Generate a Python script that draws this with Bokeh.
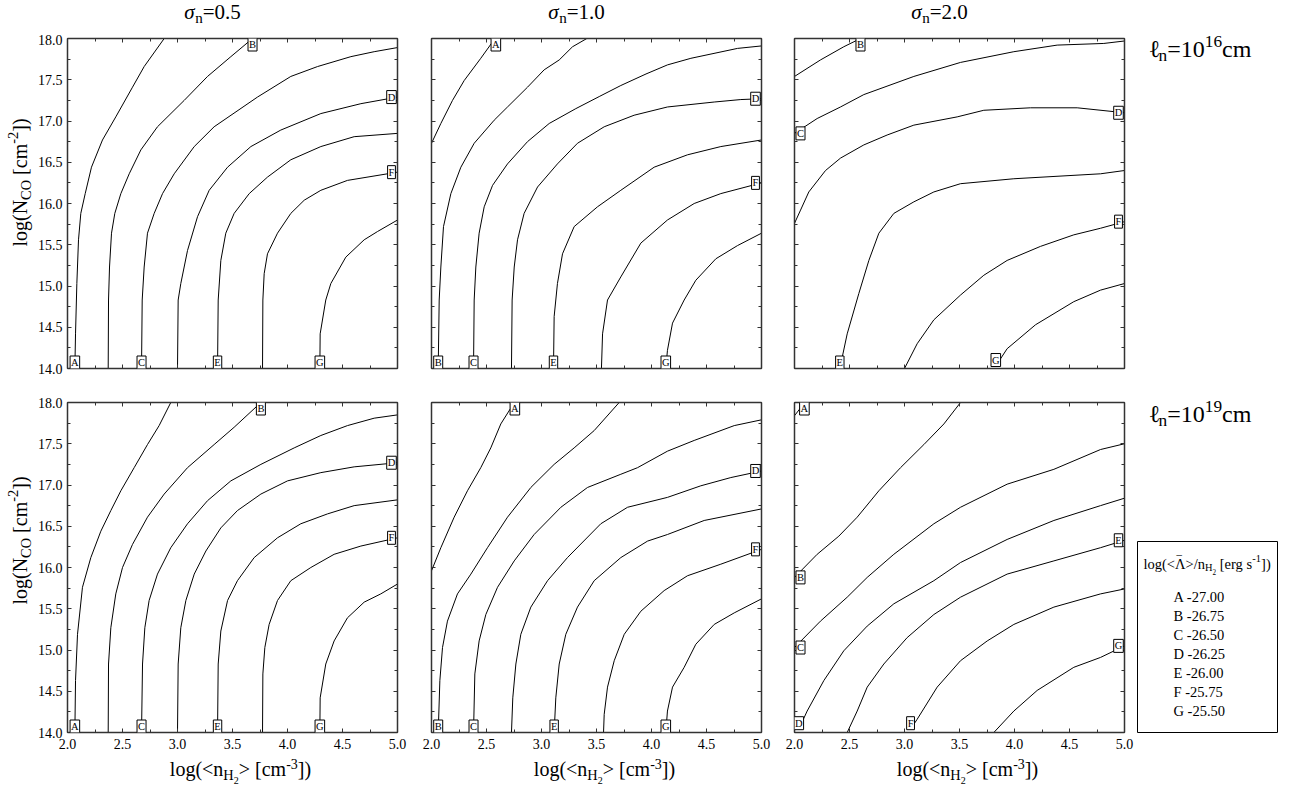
import math
from bokeh.plotting import figure
from bokeh.models import (Range1d, LinearAxis, SingleIntervalTicker, Label,
                          CustomJSTickFormatter, PrintfTickFormatter)
from bokeh.layouts import row, column
from bokeh.embed import file_html
from bokeh.resources import INLINE

FONT = "Liberation Serif"

# ---------------- data ----------------
LEVELS = ["A", "B", "C", "D", "E", "F", "G"]
LEVEL_VALUES = [-27.00, -26.75, -26.50, -26.25, -26.00, -25.75, -25.50]
SIGMA_LABELS = ["0.5", "1.0", "2.0"]
ELL_EXPONENTS = ["16", "19"]
X_LIMITS = [2.0, 5.0]
Y_LIMITS = [14.0, 18.0]
TICK_STEP = 0.5

# sigma=0.5, l=1e16
S05_L16_X = {
    "A": [2.067, 2.073, 2.085, 2.100, 2.121, 2.161, 2.218, 2.318, 2.439, 2.591, 2.697, 2.879],
    "B": [2.370, 2.373, 2.382, 2.400, 2.430, 2.485, 2.561, 2.667, 2.818, 3.061, 3.273, 3.485, 3.682],
    "C": [2.673, 2.679, 2.697, 2.727, 2.788, 2.864, 2.970, 3.152, 3.333, 3.727, 4.030, 4.273, 4.576, 4.788, 5.000],
    "D": [3.000, 3.006, 3.030, 3.091, 3.182, 3.288, 3.455, 3.667, 3.939, 4.303, 4.667, 5.000],
    "E": [3.364, 3.370, 3.394, 3.439, 3.515, 3.652, 3.818, 4.030, 4.303, 4.606, 5.000],
    "F": [3.773, 3.776, 3.788, 3.818, 3.909, 4.030, 4.152, 4.303, 4.545, 5.000],
    "G": [4.294, 4.297, 4.348, 4.394, 4.530, 4.697, 4.818, 5.000],
}
S05_L16_Y = {
    "A": [14.00, 14.42, 15.03, 15.56, 15.88, 16.12, 16.44, 16.77, 17.05, 17.41, 17.66, 18.00],
    "B": [14.00, 14.83, 15.23, 15.64, 15.88, 16.12, 16.36, 16.65, 16.93, 17.25, 17.54, 17.78, 18.00],
    "C": [14.00, 14.83, 15.23, 15.64, 15.88, 16.12, 16.36, 16.69, 16.93, 17.29, 17.54, 17.66, 17.78, 17.84, 17.89],
    "D": [14.00, 14.83, 15.03, 15.43, 15.84, 16.16, 16.44, 16.69, 16.89, 17.09, 17.21, 17.29],
    "E": [14.00, 14.83, 15.31, 15.64, 15.88, 16.12, 16.32, 16.53, 16.69, 16.81, 16.85],
    "F": [14.00, 14.83, 15.15, 15.39, 15.64, 15.88, 16.04, 16.16, 16.28, 16.38],
    "G": [14.00, 14.42, 14.83, 15.03, 15.35, 15.56, 15.66, 15.80],
}
S05_L16_END = {"A": "s", "B": "e", "C": "s", "D": "e", "E": "s", "F": "e", "G": "s"}

# sigma=1.0, l=1e16
S10_L16_X = {
    "A": [2.000, 2.085, 2.191, 2.297, 2.448, 2.545, 2.585],
    "B": [2.061, 2.070, 2.085, 2.109, 2.176, 2.267, 2.388, 2.570, 2.691, 2.873, 3.024, 3.161, 3.282, 3.412],
    "C": [2.382, 2.388, 2.403, 2.433, 2.479, 2.555, 2.691, 2.873, 3.070, 3.312, 3.530, 3.721, 3.950, 4.145, 4.358, 4.782, 5.000],
    "D": [2.727, 2.733, 2.752, 2.782, 2.842, 2.964, 3.145, 3.327, 3.570, 3.842, 4.145, 4.570, 4.812, 5.000],
    "E": [3.109, 3.115, 3.145, 3.191, 3.297, 3.509, 3.721, 4.024, 4.327, 4.630, 5.000],
    "F": [3.545, 3.555, 3.600, 3.721, 3.903, 4.145, 4.388, 4.630, 5.000],
    "G": [4.130, 4.145, 4.191, 4.297, 4.403, 4.585, 4.782, 5.000],
}
S10_L16_Y = {
    "A": [16.73, 16.97, 17.25, 17.49, 17.76, 17.94, 18.00],
    "B": [14.00, 14.83, 15.23, 15.72, 16.12, 16.44, 16.73, 17.01, 17.17, 17.41, 17.62, 17.74, 17.90, 18.00],
    "C": [14.00, 14.83, 15.23, 15.64, 15.96, 16.22, 16.48, 16.75, 16.97, 17.15, 17.30, 17.43, 17.57, 17.68, 17.76, 17.88, 17.91],
    "D": [14.00, 14.83, 15.23, 15.56, 15.88, 16.20, 16.48, 16.73, 16.93, 17.07, 17.17, 17.23, 17.26, 17.27],
    "E": [14.00, 14.63, 15.03, 15.39, 15.72, 15.96, 16.16, 16.44, 16.59, 16.69, 16.77],
    "F": [14.00, 14.42, 14.83, 15.11, 15.52, 15.80, 16.00, 16.12, 16.25],
    "G": [14.00, 14.22, 14.55, 14.83, 15.07, 15.33, 15.49, 15.64],
}
S10_L16_END = {"A": "e", "B": "s", "C": "s", "D": "e", "E": "s", "F": "e", "G": "s"}

# sigma=2.0, l=1e16
S20_L16_X = {
    "B": [2.000, 2.236, 2.448, 2.600],
    "C": [2.000, 2.206, 2.418, 2.630, 3.085, 3.509, 3.994, 4.388, 4.812, 5.000],
    "D": [2.000, 2.055, 2.130, 2.282, 2.418, 2.630, 2.842, 3.085, 3.479, 3.721, 4.145, 4.570, 5.000],
    "E": [2.412, 2.479, 2.585, 2.676, 2.767, 2.903, 3.085, 3.267, 3.509, 3.994, 4.782, 5.000],
    "F": [3.000, 3.115, 3.267, 3.509, 3.721, 3.933, 4.236, 4.539, 4.782, 5.000],
    "G": [3.830, 3.933, 4.191, 4.539, 4.782, 5.000],
}
S20_L16_Y = {
    "B": [17.54, 17.74, 17.90, 18.00],
    "C": [16.85, 17.03, 17.17, 17.32, 17.54, 17.71, 17.84, 17.92, 17.94, 17.97],
    "D": [15.76, 15.92, 16.14, 16.40, 16.55, 16.71, 16.83, 16.95, 17.05, 17.13, 17.16, 17.16, 17.10],
    "E": [14.00, 14.42, 14.91, 15.31, 15.64, 15.88, 16.02, 16.14, 16.24, 16.30, 16.36, 16.40],
    "F": [14.00, 14.30, 14.59, 14.89, 15.13, 15.31, 15.48, 15.62, 15.70, 15.78],
    "G": [14.03, 14.24, 14.53, 14.81, 14.95, 15.03],
}
S20_L16_END = {"B": "e", "C": "s", "D": "e", "E": "s", "F": "e", "G": "s"}

# sigma=0.5, l=1e19
S05_L19_X = {
    "A": [2.067, 2.073, 2.091, 2.136, 2.212, 2.303, 2.394, 2.485, 2.606, 2.727, 2.833, 2.939],
    "B": [2.370, 2.373, 2.394, 2.439, 2.500, 2.591, 2.727, 2.879, 3.091, 3.333, 3.515, 3.758],
    "C": [2.673, 2.682, 2.703, 2.742, 2.818, 2.939, 3.091, 3.273, 3.485, 3.758, 4.061, 4.303, 4.545, 4.788, 5.000],
    "D": [3.000, 3.006, 3.030, 3.076, 3.152, 3.258, 3.394, 3.545, 3.758, 4.000, 4.303, 4.606, 5.000],
    "E": [3.364, 3.370, 3.394, 3.455, 3.545, 3.697, 3.909, 4.121, 4.364, 4.606, 5.000],
    "F": [3.773, 3.776, 3.794, 3.833, 3.909, 4.030, 4.212, 4.424, 4.667, 5.000],
    "G": [4.294, 4.297, 4.348, 4.424, 4.545, 4.697, 4.848, 5.000],
}
S05_L19_Y = {
    "A": [14.00, 14.63, 15.19, 15.76, 16.12, 16.44, 16.69, 16.93, 17.21, 17.49, 17.72, 18.00],
    "B": [14.00, 14.83, 15.27, 15.68, 16.00, 16.28, 16.61, 16.89, 17.21, 17.49, 17.70, 18.00],
    "C": [14.00, 14.83, 15.27, 15.60, 15.92, 16.24, 16.53, 16.81, 17.05, 17.25, 17.45, 17.60, 17.72, 17.81, 17.85],
    "D": [14.00, 14.83, 15.27, 15.60, 15.92, 16.20, 16.48, 16.69, 16.89, 17.05, 17.15, 17.22, 17.27],
    "E": [14.00, 14.83, 15.23, 15.60, 15.84, 16.12, 16.36, 16.53, 16.65, 16.75, 16.82],
    "F": [14.00, 14.71, 15.03, 15.31, 15.60, 15.84, 16.00, 16.16, 16.26, 16.36],
    "G": [14.00, 14.42, 14.83, 15.11, 15.39, 15.58, 15.68, 15.80],
}
S05_L19_END = {"A": "s", "B": "e", "C": "s", "D": "e", "E": "s", "F": "e", "G": "s"}

# sigma=1.0, l=1e19
S10_L19_X = {
    "A": [2.000, 2.085, 2.206, 2.327, 2.448, 2.539, 2.630, 2.715, 2.758],
    "B": [2.061, 2.076, 2.100, 2.145, 2.236, 2.358, 2.509, 2.691, 2.903, 3.115, 3.297, 3.479, 3.706],
    "C": [2.382, 2.394, 2.433, 2.494, 2.600, 2.752, 2.933, 3.176, 3.418, 3.721, 3.873, 4.145, 4.388, 4.752, 5.000],
    "D": [2.727, 2.739, 2.767, 2.812, 2.903, 3.055, 3.236, 3.539, 3.782, 4.145, 4.448, 4.721, 5.000],
    "E": [3.115, 3.130, 3.161, 3.221, 3.327, 3.479, 3.721, 3.964, 4.145, 4.479, 5.000],
    "F": [3.564, 3.570, 3.600, 3.661, 3.752, 3.903, 4.115, 4.327, 4.630, 5.000],
    "G": [4.130, 4.145, 4.191, 4.297, 4.403, 4.570, 4.752, 5.000],
}
S10_L19_Y = {
    "A": [15.96, 16.24, 16.61, 16.93, 17.21, 17.45, 17.74, 17.92, 18.00],
    "B": [14.00, 14.63, 15.03, 15.35, 15.68, 15.92, 16.24, 16.61, 16.97, 17.25, 17.45, 17.66, 18.00],
    "C": [14.00, 14.71, 15.11, 15.43, 15.76, 16.08, 16.40, 16.73, 16.97, 17.13, 17.21, 17.41, 17.54, 17.72, 17.79],
    "D": [14.00, 14.42, 14.83, 15.19, 15.52, 15.84, 16.12, 16.53, 16.73, 16.85, 16.99, 17.09, 17.17],
    "E": [14.00, 14.42, 14.83, 15.19, 15.52, 15.84, 16.12, 16.32, 16.40, 16.57, 16.71],
    "F": [14.00, 14.22, 14.55, 14.87, 15.19, 15.47, 15.72, 15.90, 16.04, 16.22],
    "G": [14.00, 14.26, 14.55, 14.79, 15.07, 15.31, 15.45, 15.62],
}
S10_L19_END = {"A": "e", "B": "s", "C": "s", "D": "e", "E": "s", "F": "e", "G": "s"}

# sigma=2.0, l=1e19
S20_L19_X = {
    "A": [2.000, 2.070, 2.090],
    "B": [2.000, 2.206, 2.403, 2.570, 2.767, 2.964, 3.176, 3.358, 3.509],
    "C": [2.000, 2.236, 2.479, 2.661, 2.903, 3.267, 3.509, 3.933, 4.358, 4.782, 5.000],
    "D": [2.039, 2.115, 2.267, 2.448, 2.661, 2.903, 3.267, 3.509, 3.933, 4.358, 4.782, 5.000],
    "E": [2.479, 2.570, 2.661, 2.812, 3.024, 3.267, 3.509, 3.933, 4.358, 4.782, 5.000],
    "F": [3.055, 3.115, 3.297, 3.509, 3.752, 3.994, 4.358, 4.782, 5.000],
    "G": [3.812, 3.994, 4.206, 4.539, 4.782, 5.000],
}
S20_L19_Y = {
    "A": [17.84, 17.96, 18.00],
    "B": [15.88, 16.16, 16.38, 16.61, 16.93, 17.21, 17.49, 17.74, 18.00],
    "C": [15.03, 15.35, 15.64, 15.88, 16.16, 16.53, 16.73, 17.01, 17.19, 17.43, 17.50],
    "D": [14.04, 14.26, 14.63, 14.99, 15.29, 15.56, 15.84, 16.06, 16.34, 16.57, 16.75, 16.84],
    "E": [14.00, 14.26, 14.55, 14.83, 15.15, 15.43, 15.64, 15.92, 16.08, 16.24, 16.33],
    "F": [14.04, 14.16, 14.55, 14.87, 15.11, 15.31, 15.52, 15.68, 15.74],
    "G": [14.00, 14.26, 14.51, 14.79, 14.91, 15.05],
}
S20_L19_END = {"A": "e", "B": "s", "C": "s", "D": "s", "E": "e", "F": "s", "G": "e"}

PANELS = [
    [(S05_L16_X, S05_L16_Y, S05_L16_END), (S10_L16_X, S10_L16_Y, S10_L16_END), (S20_L16_X, S20_L16_Y, S20_L16_END)],
    [(S05_L19_X, S05_L19_Y, S05_L19_END), (S10_L19_X, S10_L19_Y, S10_L19_END), (S20_L19_X, S20_L19_Y, S20_L19_END)],
]

# ---------------- layout (pixels) ----------------
FRAME = 330
TITLE_H = 34
YLAB_W = 34
ROW_TOP = [4, 17]
ROW_BOTTOM = [17, 23]
XLAB_H = 787 - TITLE_H - (ROW_TOP[0] + FRAME + ROW_BOTTOM[0]) - (ROW_TOP[1] + FRAME + ROW_BOTTOM[1])
COL_LEFT = [33, 17, 17]
COL_RIGHT = [17, 16, 10]
RIGHT_W = 162
AXIS_COLOR = "#333333"
BOX_NUDGE = 6
MID = 0.34  # Bokeh anchors this text about 0.34 em above the baseline

# Times / Liberation Serif advance widths (1/1000 em)
W = {' ': 250, '(': 333, ')': 333, '[': 333, ']': 333, '<': 564, '>': 564, '=': 564,
     '.': 250, '-': 333, '/': 278, 'l': 278, 'o': 500, 'g': 500, 'c': 444, 'm': 778,
     'n': 500, 'e': 444, 'r': 333, 's': 389, 'N': 722, 'C': 667, 'O': 722, 'H': 722,
     'Λ': 722, 'σ': 520, 'ℓ': 420, '‾': 500}


def text_w(s, size):
    return sum(W.get(ch, 500) for ch in s) * size / 1000.0


def rich_width(segs, base):
    return sum(text_w(t, base * sc) for t, sc, _, _ in segs)


def rich(fig, x0, y0, segs, base, angle=0.0):
    """x0, y0: start of the baseline (screen px from the frame's bottom-left)."""
    ca, sa = math.cos(angle), math.sin(angle)
    pos = 0.0
    for txt, sc, rise, style in segs:
        size = base * sc
        core = txt.lstrip(" ")
        lead = text_w(txt[:len(txt) - len(core)], size)
        up = rise * base + MID * size
        along = pos + lead
        dx = along * ca - up * sa
        dy = along * sa + up * ca
        fig.add_layout(Label(x=x0 + dx, y=y0 + dy, x_units="screen", y_units="screen",
                             text=core, text_font=FONT, text_font_size=f"{size:.1f}px",
                             text_font_style=style, text_color="black",
                             text_align="left", text_baseline="middle", angle=angle))
        pos += text_w(txt, size)
    return pos


def blank(w, h, left=0, right=0, top=0, bottom=0):
    p = figure(width=w, height=h, title=None, x_range=Range1d(0, 1), y_range=Range1d(0, 1),
               x_axis_type=None, y_axis_type=None, toolbar_location=None, output_backend="svg",
               min_border_left=left, min_border_right=right, min_border_top=top, min_border_bottom=bottom)
    p.outline_line_color = None
    p.background_fill_color = "white"
    p.border_fill_color = "white"
    return p


def make_panel(r, c):
    X, Y, ENDS = PANELS[r][c]
    p = figure(width=COL_LEFT[c] + FRAME + COL_RIGHT[c], height=ROW_TOP[r] + FRAME + ROW_BOTTOM[r],
               title=None, x_range=Range1d(*X_LIMITS), y_range=Range1d(*Y_LIMITS),
               x_axis_type=None, y_axis_type=None, toolbar_location=None, output_backend="svg",
               min_border_left=COL_LEFT[c], min_border_right=COL_RIGHT[c],
               min_border_top=ROW_TOP[r], min_border_bottom=ROW_BOTTOM[r])
    p.outline_line_color = None
    p.background_fill_color = "white"
    p.border_fill_color = "white"
    for loc in ("below", "above", "left", "right"):
        labelled = (loc == "left" and c == 0) or (loc == "below" and r == 1)
        ax = LinearAxis(ticker=SingleIntervalTicker(interval=TICK_STEP, num_minor_ticks=2),
                        axis_line_color=AXIS_COLOR, axis_line_width=1.5,
                        major_tick_in=4, major_tick_out=0, minor_tick_in=3, minor_tick_out=0,
                        major_tick_line_color=AXIS_COLOR, minor_tick_line_color=AXIS_COLOR)
        if labelled:
            ax.formatter = PrintfTickFormatter(format="%.1f")
            ax.major_label_text_font = FONT
            ax.major_label_text_font_size = "14px"
            ax.major_label_text_color = "black"
            ax.major_label_standoff = 5 if loc == "left" else 6
        else:
            ax.formatter = CustomJSTickFormatter(code="return ''")
            ax.major_label_text_font_size = "1px"
            ax.major_label_standoff = 0
        p.add_layout(ax, loc)

    for L in LEVELS:
        if L in X:
            p.line(X[L], Y[L], line_color="black", line_width=1)
    for L in LEVELS:
        if L not in X:
            continue
        i = 0 if ENDS[L] == "s" else -1
        x, y = X[L][i], Y[L][i]
        xo = BOX_NUDGE if x <= X_LIMITS[0] + 0.01 else (-BOX_NUDGE if x >= X_LIMITS[1] - 0.01 else 0)
        yo = BOX_NUDGE if y <= Y_LIMITS[0] + 0.06 else (-BOX_NUDGE if y >= Y_LIMITS[1] - 0.01 else 0)
        p.add_layout(Label(x=x, y=y, x_offset=xo, y_offset=yo, text=L, text_font=FONT,
                           text_font_size="10.5px", text_color="black", text_align="center",
                           text_baseline="middle", background_fill_color="white",
                           border_line_color="black", border_line_width=1, padding=1))
    return p


panels = [[make_panel(r, c) for c in range(3)] for r in range(2)]
col_w = [COL_LEFT[c] + FRAME + COL_RIGHT[c] for c in range(3)]
row_h = [ROW_TOP[r] + FRAME + ROW_BOTTOM[r] for r in range(2)]
left_w = YLAB_W + sum(col_w)
total_h = TITLE_H + sum(row_h) + XLAB_H

# column titles strip
T = blank(left_w, TITLE_H)
x_left = YLAB_W
for c in range(3):
    segs = [("σ", 1, 0, "italic"), ("n", 0.72, -0.18, "normal"), ("=" + SIGMA_LABELS[c], 1, 0, "normal")]
    w = rich_width(segs, 21)
    centre = x_left + COL_LEFT[c] + FRAME / 2 - 20
    rich(T, centre - w / 2, TITLE_H - 19, segs, 21)
    x_left += col_w[c]

# y-axis label strips
YSEGS = [("log(N", 1, 0, "normal"), ("CO", 0.72, -0.2, "normal"), (" [cm", 1, 0, "normal"),
         ("-2", 0.72, 0.42, "normal"), ("])", 1, 0, "normal")]
ys_strips = []
for r in range(2):
    s = blank(YLAB_W, row_h[r])
    w = rich_width(YSEGS, 20)
    centre = ROW_BOTTOM[r] + FRAME / 2 + 4
    rich(s, 26, centre - w / 2, YSEGS, 20, angle=math.pi / 2)
    ys_strips.append(s)

# x-axis label strip
XS = blank(left_w, XLAB_H)
XSEGS = [("log(<n", 1, 0, "normal"), ("H", 0.72, -0.2, "normal"), ("2", 0.5, -0.4, "normal"),
         ("> [cm", 1, 0, "normal"), ("-3", 0.7, 0.36, "normal"), ("])", 1, 0, "normal")]
x_left = YLAB_W
for c in range(3):
    w = rich_width(XSEGS, 20)
    centre = x_left + COL_LEFT[c] + FRAME / 2 + 8
    rich(XS, centre - w / 2, total_h - 775, XSEGS, 20)
    x_left += col_w[c]


def ell_segs(exp):
    return [("ℓ", 1, 0, "normal"), ("n", 0.72, -0.18, "normal"), ("=10", 1, 0, "normal"),
            (exp, 0.72, 0.42, "normal"), ("cm", 1, 0, "normal")]


# right column: row labels + legend box
LEG_FRAME_H = 191
LEG_BOTTOM = total_h - TITLE_H - row_h[0] - ROW_TOP[1] - FRAME   # legend box bottom aligned to frames
RL_h = 1 + LEG_FRAME_H + LEG_BOTTOM
RT_h = total_h - RL_h
RT = blank(RIGHT_W, RT_h)
rich(RT, 11, RT_h - 57, ell_segs(ELL_EXPONENTS[0]), 24)
rich(RT, 11, RT_h - 422, ell_segs(ELL_EXPONENTS[1]), 24)

RL = blank(RIGHT_W, RL_h, left=3, right=19, top=1, bottom=LEG_BOTTOM)
RL.outline_line_color = "black"
RL.outline_line_width = 1
LEG = 14.5
x0 = 6
pre = "log(<"
rich(RL, x0, 164, [(pre, 1, 0, "normal")], LEG)
lam_x = x0 + text_w(pre, LEG)
rich(RL, lam_x + text_w("Λ", LEG) / 2 - text_w("‾", LEG) / 2, 164 + 0.1 * LEG, [("‾", 1, 0, "normal")], LEG)
rest = [("Λ", 1, 0, "normal"), (">/n", 1, 0, "normal"), ("H", 0.72, -0.2, "normal"), ("2", 0.5, -0.4, "normal"),
        (" [erg s", 1, 0, "normal"), ("-1", 0.72, 0.42, "normal"), ("])", 1, 0, "normal")]
rich(RL, lam_x, 164, rest, LEG)
for i, (L, v) in enumerate(zip(LEVELS, LEVEL_VALUES)):
    rich(RL, 36, 130.3 - 19 * i, [(f"{L} {v:.2f}", 1, 0, "normal")], LEG)

left_block = column(
    T,
    row(ys_strips[0], panels[0][0], panels[0][1], panels[0][2]),
    row(ys_strips[1], panels[1][0], panels[1][1], panels[1][2]),
    XS,
)
layout = row(left_block, column(RT, RL))

open("out.html", "w").write(file_html(layout, INLINE))
